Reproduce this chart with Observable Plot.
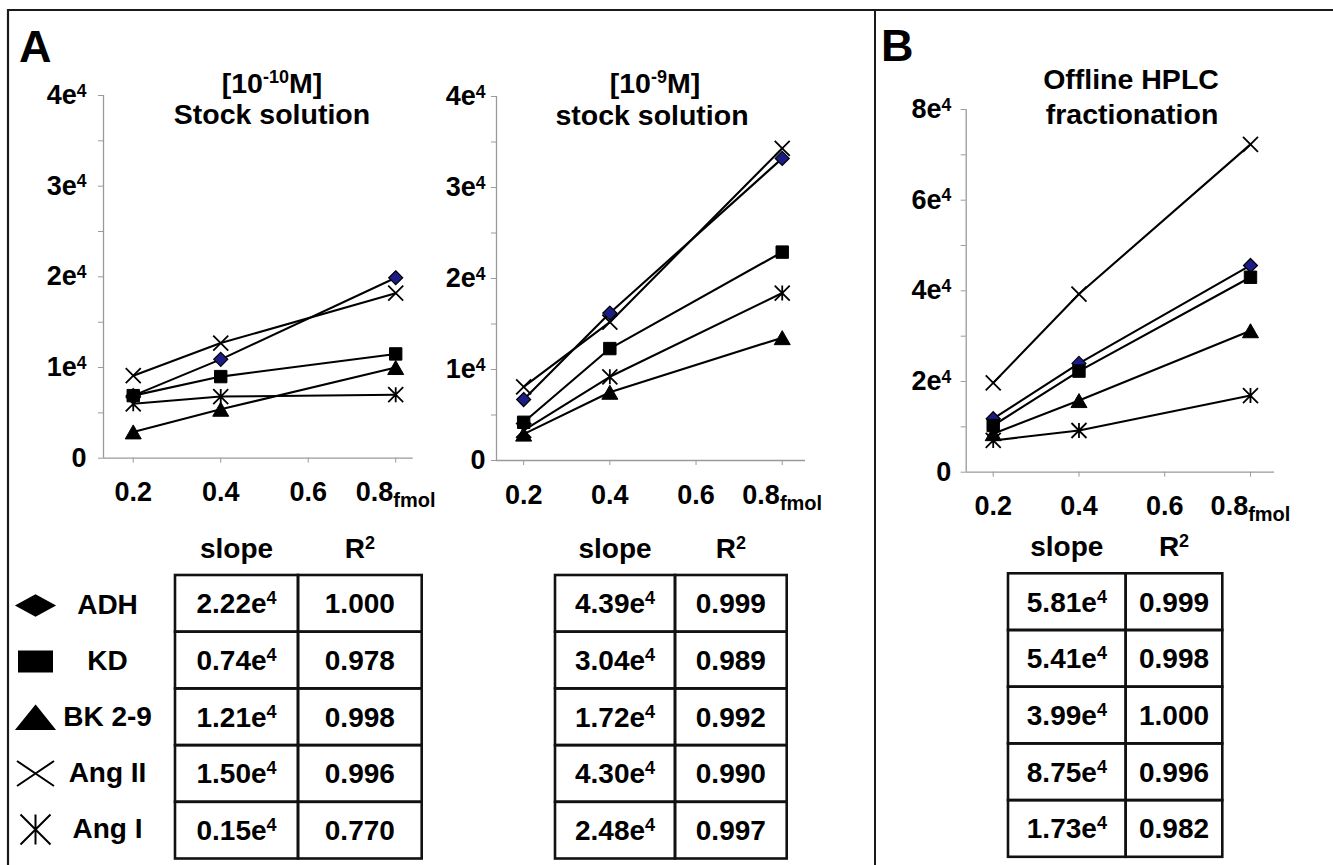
<!DOCTYPE html>
<html><head><meta charset="utf-8">
<script src="https://cdn.jsdelivr.net/npm/d3@7"></script>
<script src="https://cdn.jsdelivr.net/npm/@observablehq/plot@0.6"></script>
<style>
html,body{margin:0;padding:0;background:#fff;}
#fig{position:relative;width:1333px;height:865px;overflow:hidden;background:#fff;font-family:"Liberation Sans",Arial,sans-serif;font-weight:bold;}
#fig svg{position:absolute;}
</style></head><body><div id="fig"></div>
<script>
// ---------- data ----------
const series = ["ADH", "KD", "BK 2-9", "Ang II", "Ang I"];
const amounts = [0.2, 0.4, 0.8]; // fmol
// signal per series (rows follow `series`), columns follow `amounts`
const stockLow  = [[6900, 10900, 19900], [6900, 9000, 11500], [2900, 5400, 10000], [9100, 12700, 18200], [6000, 6800, 7000]];
const stockHigh = [[6700, 16200, 33200], [4200, 12300, 22900], [2900, 7500, 13500], [8100, 15200, 34300], [3300, 9200, 18400]];
const hplc      = [[11800, 24000, 45600], [10300, 22300, 43000], [8500, 15800, 31200], [19700, 39300, 72300], [7000, 9200, 16900]];
// tables
const slopeLow  = ["2.22", "0.74", "1.21", "1.50", "0.15"];
const r2Low     = ["1.000", "0.978", "0.998", "0.996", "0.770"];
const slopeHigh = ["4.39", "3.04", "1.72", "4.30", "2.48"];
const r2High    = ["0.999", "0.989", "0.992", "0.990", "0.997"];
const slopeHplc = ["5.81", "5.41", "3.99", "8.75", "1.73"];
const r2Hplc    = ["0.999", "0.998", "1.000", "0.996", "0.982"];
// ticks
const xTicks = [0.2, 0.4, 0.6, 0.8];
const yTicksA = [0, 5000, 10000, 15000, 20000, 25000, 30000, 35000, 40000];
const yLabelsA = [0, 10000, 20000, 30000, 40000];
const yTicksB = [0, 10000, 20000, 30000, 40000, 50000, 60000, 70000, 80000];
const yLabelsB = [0, 20000, 40000, 60000, 80000];

// ---------- symbols ----------
const diamond = (hx, hy) => ({draw(c) { c.moveTo(0, -hy); c.lineTo(hx, 0); c.lineTo(0, hy); c.lineTo(-hx, 0); c.closePath(); }});
const rect = (hx, hy) => ({draw(c) { c.moveTo(-hx, -hy); c.lineTo(hx, -hy); c.lineTo(hx, hy); c.lineTo(-hx, hy); c.closePath(); }});
const tri = (hx, hy) => ({draw(c) { c.moveTo(0, -hy); c.lineTo(hx, hy); c.lineTo(-hx, hy); c.closePath(); }});
const times = (hx, hy) => ({draw(c) { c.moveTo(-hx, -hy); c.lineTo(hx, hy); c.moveTo(-hx, hy); c.lineTo(hx, -hy); }});
const aster = (hx, hy) => ({draw(c) { c.moveTo(0, -hy); c.lineTo(0, hy); c.moveTo(-hx, -hy); c.lineTo(hx, hy); c.moveTo(-hx, hy); c.lineTo(hx, -hy); }});

const chartSyms = [diamond(7, 7), rect(6.2, 6.2), tri(8, 7), times(7.5, 7.5), aster(7.5, 7.5)];
const chartFills = ["#1c1c86", "black", "black", "none", "none"];
const chartSW = [1.2, 1, 1, 1.8, 1.8];
const legSyms = [diamond(18.5, 10), rect(16.5, 10), tri(18.5, 11.5), times(18.5, 12.5), aster(15, 15)];
const legFills = ["black", "black", "black", "none", "none"];

const FONT = "'Liberation Sans', Arial, sans-serif";
const fig = d3.select("#fig");

// ---------- overlay: borders, titles, tables ----------
const ov = fig.append("svg").attr("width", 1333).attr("height", 865)
  .style("left", "0px").style("top", "0px")
  .attr("font-family", FONT).attr("font-weight", "bold");

const border = "#1a1a1a";
ov.append("line").attr("x1", 8).attr("x2", 1333).attr("y1", 10).attr("y2", 10).attr("stroke", border).attr("stroke-width", 2.2);
ov.append("line").attr("x1", 8).attr("x2", 8).attr("y1", 9).attr("y2", 865).attr("stroke", border).attr("stroke-width", 2.2);
ov.append("line").attr("x1", 875).attr("x2", 875).attr("y1", 9).attr("y2", 865).attr("stroke", border).attr("stroke-width", 2);

ov.append("text").attr("x", 19).attr("y", 62).attr("font-size", 45).text("A");
ov.append("text").attr("x", 881).attr("y", 61).attr("font-size", 45).text("B");

function titleSup(x, y, pre, sup, post) {
  const t = ov.append("text").attr("x", x).attr("y", y).attr("text-anchor", "middle").attr("font-size", 28.5);
  t.append("tspan").text(pre);
  t.append("tspan").attr("font-size", 18).attr("dy", -10).text(sup);
  t.append("tspan").attr("dy", 10).text(post);
}
function title(x, y, s) {
  ov.append("text").attr("x", x).attr("y", y).attr("text-anchor", "middle").attr("font-size", 28.5).text(s);
}
titleSup(272, 93, "[10", "-10", "M]");
title(272, 124, "Stock solution");
titleSup(655, 93, "[10", "-9", "M]");
title(652, 125, "stock solution");
title(1131, 89, "Offline HPLC");
title(1132, 124, "fractionation");

const rowH = 56.7;
function table(x0, x1, x2, top, slopes, r2s) {
  const hy = top - 17;
  ov.append("text").attr("x", (x0 + x1) / 2).attr("y", hy).attr("text-anchor", "middle").attr("font-size", 28).text("slope");
  const r = ov.append("text").attr("x", (x1 + x2) / 2).attr("y", hy).attr("text-anchor", "middle").attr("font-size", 28);
  r.append("tspan").text("R");
  r.append("tspan").attr("font-size", 18).attr("dy", -9).text("2");
  slopes.forEach((s, i) => {
    const y = top + i * rowH;
    [[x0, x1], [x1, x2]].forEach(([a, b]) => {
      ov.append("rect").attr("x", a).attr("y", y).attr("width", b - a).attr("height", rowH)
        .attr("fill", "none").attr("stroke", "#111").attr("stroke-width", 2.6);
    });
    const t = ov.append("text").attr("x", (x0 + x1) / 2).attr("y", y + rowH / 2 + 10).attr("text-anchor", "middle").attr("font-size", 28);
    t.append("tspan").text(s + "e");
    t.append("tspan").attr("font-size", 18).attr("dy", -9).text("4");
    ov.append("text").attr("x", (x1 + x2) / 2).attr("y", y + rowH / 2 + 10).attr("text-anchor", "middle").attr("font-size", 28).text(r2s[i]);
  });
}
table(175, 298, 421.7, 575, slopeLow, r2Low);
table(555, 675, 786.7, 575, slopeHigh, r2High);
table(1008, 1125.7, 1222.3, 573.3, slopeHplc, r2Hplc);

// ---------- charts ----------
function chart(values, cfg) {
  const data = [];
  series.forEach((s, i) => amounts.forEach((a, j) => data.push({series: s, amount: a, signal: values[i][j]})));
  const marks = [
    Plot.ruleX([cfg.xDomain[0]], {stroke: "#9a9a9a", strokeWidth: 1.3}),
    Plot.ruleY([0], {stroke: "#9a9a9a", strokeWidth: 1.3}),
    Plot.axisY({ticks: cfg.yTicks, tickSize: 5, tickPadding: cfg.yPad, label: null, fontSize: 27,
      stroke: "#9a9a9a", fill: "black",
      tickFormat: d => cfg.yLabels.includes(d) ? (d === 0 ? "0" : (d / 1e4) + "e") : ""}),
    Plot.axisX({ticks: xTicks, tickSize: 5, tickPadding: 19, label: null, fontSize: 27,
      stroke: "#9a9a9a", fill: "black", tickFormat: d => d.toFixed(1)}),
    Plot.line(data, {x: "amount", y: "signal", z: "series", stroke: "black", strokeWidth: 2.1}),
    ...series.map((s, i) => Plot.dot(data.filter(d => d.series === s), {
      x: "amount", y: "signal", symbol: chartSyms[i], fill: chartFills[i], stroke: "black", strokeWidth: chartSW[i]}))
  ];
  const svg = Plot.plot({
    width: cfg.w, height: cfg.h,
    marginLeft: cfg.ml, marginRight: cfg.mr, marginTop: cfg.mt, marginBottom: cfg.mb,
    x: {domain: cfg.xDomain}, y: {domain: cfg.yDomain},
    style: {fontFamily: FONT, fontWeight: "bold", background: "transparent", overflow: "visible", color: "black"},
    marks
  });
  const sel = d3.select(svg);
  sel.selectAll('[aria-label="y-axis tick label"] text').each(function () {
    if (this.textContent.endsWith("e")) d3.select(this).append("tspan").attr("font-size", 17.5).attr("dy", -7.5).text("4");
  });
  sel.selectAll('[aria-label="x-axis tick label"] text').each(function () {
    if (this.textContent === "0.8") d3.select(this).append("tspan").attr("font-size", 20).attr("dy", 6).text("fmol");
  });
  svg.style.position = "absolute";
  svg.style.left = cfg.left + "px";
  svg.style.top = cfg.top + "px";
  fig.node().appendChild(svg);
}

chart(stockLow, {left: 10, top: 80, w: 430, h: 450, ml: 93, mr: 27.3, mt: 15, mb: 72.3,
  xDomain: [0.132, 0.84], yDomain: [0, 40000], yTicks: yTicksA, yLabels: yLabelsA, yPad: 12});
chart(stockHigh, {left: 440, top: 80, w: 420, h: 450, ml: 56, mr: 55, mt: 16, mb: 70,
  xDomain: [0.137, 0.854], yDomain: [0, 40000], yTicks: yTicksA, yLabels: yLabelsA, yPad: 6});
chart(hplc, {left: 890, top: 80, w: 440, h: 460, ml: 75.7, mr: 56, mt: 29, mb: 68.3,
  xDomain: [0.137, 0.856], yDomain: [0, 80000], yTicks: yTicksB, yLabels: yLabelsB, yPad: 10});

// ---------- legend ----------
const legend = Plot.plot({
  width: 175, height: 283, marginLeft: 0, marginRight: 0, marginTop: 0, marginBottom: 0,
  y: {type: "point", domain: series, padding: 0.5, axis: null},
  style: {fontFamily: FONT, fontWeight: "bold", background: "transparent", overflow: "visible", color: "black"},
  marks: [
    ...series.map((s, i) => Plot.dot([s], {y: d => d, frameAnchor: "left", dx: 35, symbol: legSyms[i],
      fill: legFills[i], stroke: "black", strokeWidth: 2})),
    Plot.text(series, {y: d => d, text: d => d, frameAnchor: "left", dx: 107, textAnchor: "middle", fontSize: 28, fill: "black"})
  ]
});
legend.style.position = "absolute";
legend.style.left = "0px";
legend.style.top = "575px";
fig.node().appendChild(legend);
</script></body></html>
